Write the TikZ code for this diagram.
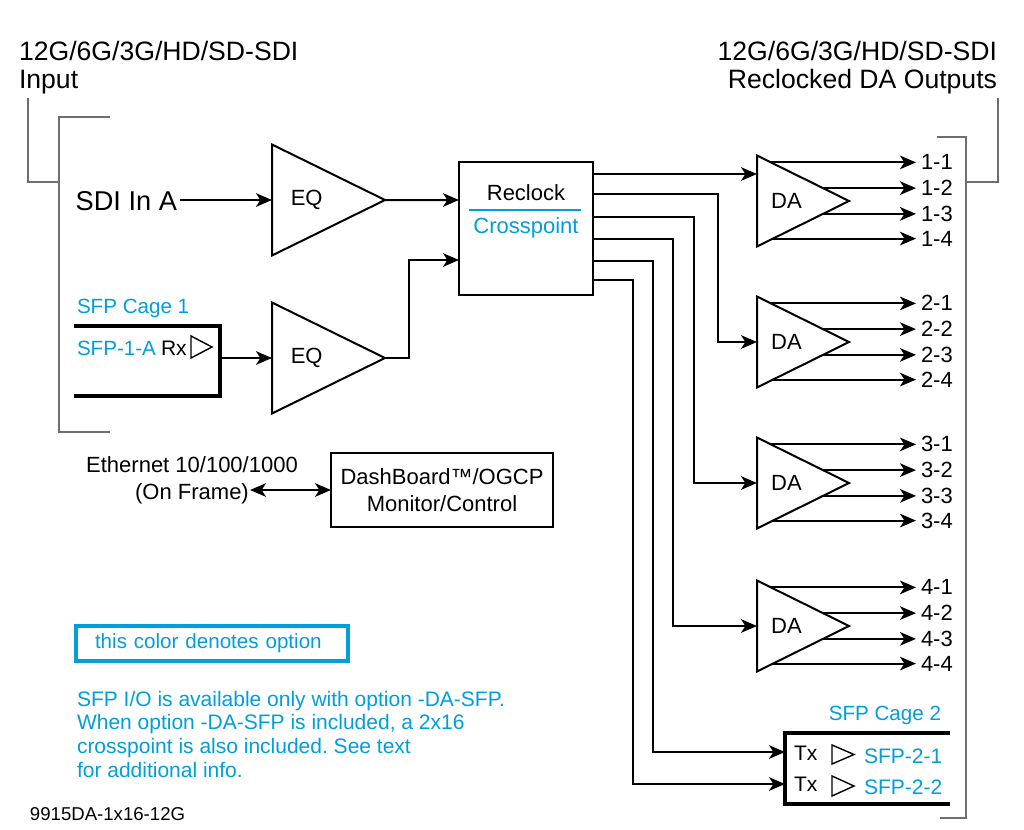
\documentclass[tikz,border=0pt]{standalone}
\usepackage{fontspec}
\setmainfont{Liberation Sans}
\usetikzlibrary{arrows.meta,shapes.geometric,calc}
\definecolor{optblue}{RGB}{0,158,219}
\definecolor{brkgray}{RGB}{110,110,110}
\frenchspacing

\begin{document}
\begin{tikzpicture}[x=0.5pt, y=-0.5pt, line width=1pt,
    >={Stealth[length=8pt, width=6.8pt, inset=2.2pt]},
    amp/.style={draw, isosceles triangle, isosceles triangle stretches, inner sep=0pt, outer sep=0pt, anchor=west, font=\fontsize{11}{13}\selectfont},
    box/.style={draw, rectangle, inner sep=0pt, outer sep=0pt, align=center, font=\fontsize{11}{13.5}\selectfont},
    txt/.style={inner sep=0pt, outer sep=0pt, font=\fontsize{11}{13.5}\selectfont},
    opt/.style={txt, text=optblue, font=\fontsize{10.3}{12}\selectfont},
    port/.style={txt, anchor=west, font=\fontsize{10.5}{12}\selectfont},
    outlbl/.style={txt, anchor=west, inner xsep=2.5pt, font=\fontsize{11}{12}\selectfont},
    cage/.style={line width=2pt},
    brk/.style={draw=brkgray, line width=0.7pt}]
    \useasboundingbox (0,0) rectangle (1024,830);

    \node[txt, anchor=west, align=left, font=\fontsize{13.3}{14}\selectfont] (intitle) at (19,68) {12G/6G/3G/HD/SD-SDI\\Input};
    \node[txt, anchor=east, align=right, font=\fontsize{13.3}{14}\selectfont] (outtitle) at (997,68) {12G/6G/3G/HD/SD-SDI\\Reclocked DA Outputs};
    \draw[brk] (28,98) -- (28,182) -- (59,182);
    \draw[brk] (110,117) -- (59,117) -- (59,432) -- (110,432);
    \draw[brk] (998,98) -- (998,182) -- (966,182);
    \draw[brk] (937,137) -- (966,137) -- (966,818) -- (940,818);

    \node[txt, anchor=east, font=\fontsize{13.6}{14}\selectfont] (sdi) at (177,201) {SDI In A};
    \node[amp, minimum width=55.5pt, minimum height=56.5pt] (eqA) at (272,200) {EQ};
    \node[amp, minimum width=55.5pt, minimum height=56.5pt] (eqB) at (272,358) {EQ};

    % SFP cage 1
    \draw[cage] (74,326) -- (220,326) -- (220,396) -- (74,396);
    \node[opt, anchor=west] (cageA) at (77,308) {SFP Cage 1};
    \node[opt, anchor=west] (sfpA) at (77,348) {SFP-1-A};
    \node[port] (rx) at (161,348) {Rx};
    \draw[line width=0.7pt] (191,336) -- (212,347) -- (191,358) -- cycle;
    \coordinate (rxA) at (220,358);

    \node[box, minimum width=67pt, minimum height=66.5pt] (xpt) at (526,228.5) {};
    \node[txt] (xptTop) at (526,193) {Reclock};
    \node[txt, text=optblue] (xptBot) at (526,228) {Crosspoint};
    \draw[optblue, line width=0.7pt] (469,210) -- (581,210);

    \draw[->] ([xshift=1.5pt]sdi.east |- eqA.west) -- (eqA.west);
    \draw[->] (rxA) -- (eqB.west);
    \draw[->] (eqA.apex) -- ($(xpt.north west)+(0,38)$);
    \draw[->] (eqB.apex) -- ++(24,0) |- ($(xpt.north west)+(0,98)$);

    % distribution amps
    \foreach \n/\yc in {1/201, 2/342, 3/483, 4/626}
        \node[amp, minimum width=45.5pt, minimum height=46pt] (da\n) at (757,\yc) {DA};
    \foreach \n in {1,...,4} {
        \foreach \k/\corner/\t/\dy in {1/left corner/0.152/-39, 2/left corner/0.717/-13, 3/right corner/0.717/13, 4/right corner/0.174/38} {
            \node[outlbl] (out\n\k) at ($(da\n.apex)+(67,\dy)$) {\n-\k};
            \draw[->] ($(da\n.\corner)!\t!(da\n.apex)$) coordinate (p) -- (p -| out\n\k.west);
        }
    }

    % SFP cage 2
    \draw[cage] (950,733) -- (785,733) -- (785,804) -- (950,804);
    \node[opt, anchor=east] (cageB) at (941,715) {SFP Cage 2};
    \node[port] (txA) at (794,753) {Tx};
    \node[port] (txB) at (794,784) {Tx};
    \draw[line width=0.7pt] (832,745) -- (854,754.5) -- (832,764) -- cycle;
    \draw[line width=0.7pt] (832,776) -- (854,786) -- (832,796) -- cycle;
    \node[opt, anchor=west, font=\fontsize{10.5}{12}\selectfont] (sfpB) at (864,756) {SFP-2-1};
    \node[opt, anchor=west, font=\fontsize{10.5}{12}\selectfont] (sfpC) at (864,787) {SFP-2-2};
    \coordinate (tx1) at (785,752);
    \coordinate (tx2) at (785,784);

    \draw[->] ($(xpt.north east)+(0,12)$) coordinate (x1) -- (x1 -| da1.west);
    \draw[->] ($(xpt.north east)+(0,32)$) -| ($(da2.west)+(-39,0)$) -- (da2.west);
    \draw[->] ($(xpt.north east)+(0,55)$) -| ($(da3.west)+(-63,0)$) -- (da3.west);
    \draw[->] ($(xpt.north east)+(0,77)$) -| ($(da4.west)+(-84,0)$) -- (da4.west);
    \draw[->] ($(xpt.north east)+(0,99)$) -| ($(tx1)+(-132,0)$) -- (tx1);
    \draw[->] ($(xpt.north east)+(0,118)$) -| ($(tx2)+(-152,0)$) -- (tx2);

    % control
    \node[txt, align=center] (eth) at (192,480) {Ethernet 10/100/1000\\(On Frame)};
    \coordinate (ethport) at (250,490);
    \node[box, minimum width=111pt, minimum height=37pt] (dash) at (442,490) {DashBoard™/OGCP\\Monitor/Control};
    \draw[<->] (ethport) -- (dash.west);

    % legend
    \node[draw=optblue, line width=2pt, inner xsep=9.5pt, inner ysep=0pt, text width=117pt, minimum height=17.5pt, align=left, text=optblue, font=\fontsize{10.3}{12}\selectfont] (legend) at (212,643.5) {this color denotes option};
    \node[opt, anchor=north west, align=left, font=\fontsize{10.5}{11.85}\selectfont] (note) at (77,691) {SFP I/O is available only with option -DA-SFP.\\When option -DA-SFP is included, a 2x16\\crosspoint is also included. See text\\for additional info.};
    \node[txt, anchor=west, font=\fontsize{9.3}{11}\selectfont] (code) at (30,814) {9915DA-1x16-12G};
\end{tikzpicture}
\end{document}
